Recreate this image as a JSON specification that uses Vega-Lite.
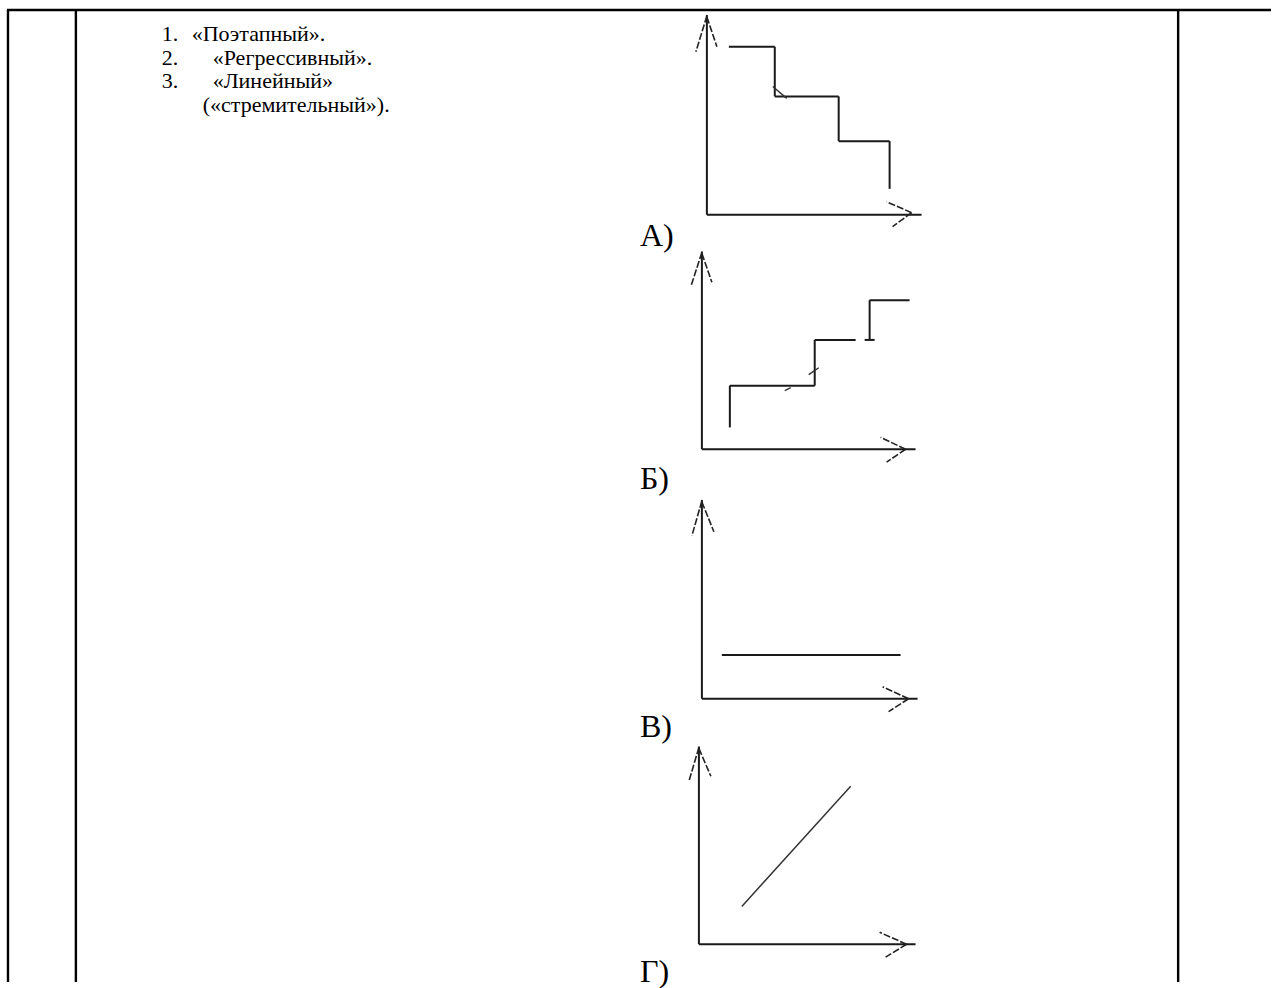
{
  "$schema": "https://vega.github.io/schema/vega-lite/v6.json",
  "width": 1273,
  "height": 988,
  "autosize": {"type": "fit", "contains": "padding"},
  "padding": 0,
  "background": "white",
  "config": {"view": {"stroke": null}},
  "datasets": {
    "segments": [
      {"kind": "border", "x": 7, "y": 10, "x2": 1273, "y2": 10},
      {"kind": "border", "x": 8, "y": 10, "x2": 8, "y2": 988},
      {"kind": "border", "x": 76, "y": 10, "x2": 76, "y2": 988},
      {"kind": "border", "x": 1180, "y": 10, "x2": 1180, "y2": 988},

      {"kind": "axis", "x": 708, "y": 15, "x2": 708, "y2": 216},
      {"kind": "axis", "x": 708, "y": 216, "x2": 923, "y2": 216},
      {"kind": "axis", "x": 703, "y": 253, "x2": 703, "y2": 452},
      {"kind": "axis", "x": 703, "y": 452, "x2": 917, "y2": 452},
      {"kind": "axis", "x": 703, "y": 503, "x2": 703, "y2": 703},
      {"kind": "axis", "x": 703, "y": 703, "x2": 919, "y2": 703},
      {"kind": "axis", "x": 700, "y": 751, "x2": 700, "y2": 950},
      {"kind": "axis", "x": 700, "y": 950, "x2": 917, "y2": 950},

      {"kind": "arrow", "x": 708, "y": 16, "x2": 697, "y2": 52},
      {"kind": "arrow", "x": 708, "y": 17, "x2": 718, "y2": 47},
      {"kind": "arrow", "x": 913, "y": 214, "x2": 888, "y2": 203},
      {"kind": "arrow", "x": 913, "y": 214, "x2": 894, "y2": 228},
      {"kind": "arrow", "x": 703, "y": 254, "x2": 692, "y2": 288},
      {"kind": "arrow", "x": 703, "y": 255, "x2": 713, "y2": 284},
      {"kind": "arrow", "x": 907, "y": 452, "x2": 882, "y2": 440},
      {"kind": "arrow", "x": 907, "y": 452, "x2": 888, "y2": 465},
      {"kind": "arrow", "x": 703, "y": 504, "x2": 693, "y2": 539},
      {"kind": "arrow", "x": 703, "y": 505, "x2": 715, "y2": 535},
      {"kind": "arrow", "x": 910, "y": 703, "x2": 884, "y2": 691},
      {"kind": "arrow", "x": 910, "y": 703, "x2": 890, "y2": 716},
      {"kind": "arrow", "x": 700, "y": 752, "x2": 690, "y2": 786},
      {"kind": "arrow", "x": 700, "y": 753, "x2": 712, "y2": 781},
      {"kind": "arrow", "x": 908, "y": 950, "x2": 881, "y2": 938},
      {"kind": "arrow", "x": 908, "y": 950, "x2": 887, "y2": 963},

      {"kind": "curve", "x": 730, "y": 47, "x2": 776, "y2": 47},
      {"kind": "curve", "x": 776, "y": 47, "x2": 776, "y2": 97},
      {"kind": "curve", "x": 776, "y": 97, "x2": 840, "y2": 97},
      {"kind": "curve", "x": 840, "y": 97, "x2": 840, "y2": 142},
      {"kind": "curve", "x": 840, "y": 142, "x2": 891, "y2": 142},
      {"kind": "curve", "x": 891, "y": 142, "x2": 891, "y2": 190},

      {"kind": "curve", "x": 731, "y": 430, "x2": 731, "y2": 388},
      {"kind": "curve", "x": 731, "y": 388, "x2": 816, "y2": 388},
      {"kind": "curve", "x": 816, "y": 388, "x2": 816, "y2": 342},
      {"kind": "curve", "x": 816, "y": 342, "x2": 857, "y2": 342},
      {"kind": "curve", "x": 866, "y": 342, "x2": 876, "y2": 342},
      {"kind": "curve", "x": 871, "y": 342, "x2": 871, "y2": 302},
      {"kind": "curve", "x": 871, "y": 302, "x2": 911, "y2": 302},

      {"kind": "curve", "x": 723, "y": 659, "x2": 902, "y2": 659},

      {"kind": "thin", "x": 743, "y": 912, "x2": 852, "y2": 791},
      {"kind": "thin", "x": 774, "y": 87, "x2": 788, "y2": 99},
      {"kind": "thin", "x": 786, "y": 393, "x2": 792, "y2": 390},
      {"kind": "thin", "x": 810, "y": 377, "x2": 820, "y2": 370}
    ],
    "texts": [
      {"kind": "list", "x": 162, "y": 41, "text": "1."},
      {"kind": "list", "x": 192, "y": 41, "text": "«Поэтапный»."},
      {"kind": "list", "x": 162, "y": 65, "text": "2."},
      {"kind": "list", "x": 213, "y": 65, "text": "«Регрессивный»."},
      {"kind": "list", "x": 162, "y": 89, "text": "3."},
      {"kind": "list", "x": 213, "y": 89, "text": "«Линейный»"},
      {"kind": "list", "x": 203, "y": 113, "text": "(«стремительный»)."},
      {"kind": "label", "x": 641, "y": 247, "text": "А)"},
      {"kind": "label", "x": 641, "y": 492, "text": "Б)"},
      {"kind": "label", "x": 641, "y": 741, "text": "В)"},
      {"kind": "label", "x": 641, "y": 988, "text": "Г)"}
    ]
  },
  "encoding": {
    "x": {"field": "x", "type": "quantitative", "scale": {"domain": [0, 1273], "nice": false, "zero": false}, "axis": null},
    "y": {"field": "y", "type": "quantitative", "scale": {"domain": [0, 988], "nice": false, "zero": false, "reverse": true}, "axis": null}
  },
  "layer": [
    {
      "data": {"name": "segments"},
      "transform": [{"filter": "datum.kind === 'border'"}],
      "mark": {"type": "rule", "color": "#000000", "strokeWidth": 2.4},
      "encoding": {"x2": {"field": "x2"}, "y2": {"field": "y2"}}
    },
    {
      "data": {"name": "segments"},
      "transform": [{"filter": "datum.kind === 'axis'"}],
      "mark": {"type": "rule", "color": "#1a1a1a", "strokeWidth": 2},
      "encoding": {"x2": {"field": "x2"}, "y2": {"field": "y2"}}
    },
    {
      "data": {"name": "segments"},
      "transform": [{"filter": "datum.kind === 'curve'"}],
      "mark": {"type": "rule", "color": "#1a1a1a", "strokeWidth": 2},
      "encoding": {"x2": {"field": "x2"}, "y2": {"field": "y2"}}
    },
    {
      "data": {"name": "segments"},
      "transform": [{"filter": "datum.kind === 'arrow'"}],
      "mark": {"type": "rule", "color": "#222222", "strokeWidth": 1.6, "strokeDash": [7, 2]},
      "encoding": {"x2": {"field": "x2"}, "y2": {"field": "y2"}}
    },
    {
      "data": {"name": "segments"},
      "transform": [{"filter": "datum.kind === 'thin'"}],
      "mark": {"type": "rule", "color": "#333333", "strokeWidth": 1.5},
      "encoding": {"x2": {"field": "x2"}, "y2": {"field": "y2"}}
    },
    {
      "data": {"name": "texts"},
      "transform": [{"filter": "datum.kind === 'list'"}],
      "mark": {"type": "text", "align": "left", "baseline": "alphabetic", "font": "Liberation Serif", "fontSize": 22, "color": "#000000"},
      "encoding": {"text": {"field": "text"}}
    },
    {
      "data": {"name": "texts"},
      "transform": [{"filter": "datum.kind === 'label'"}],
      "mark": {"type": "text", "align": "left", "baseline": "alphabetic", "font": "Liberation Serif", "fontSize": 32, "color": "#000000"},
      "encoding": {"text": {"field": "text"}}
    }
  ]
}
